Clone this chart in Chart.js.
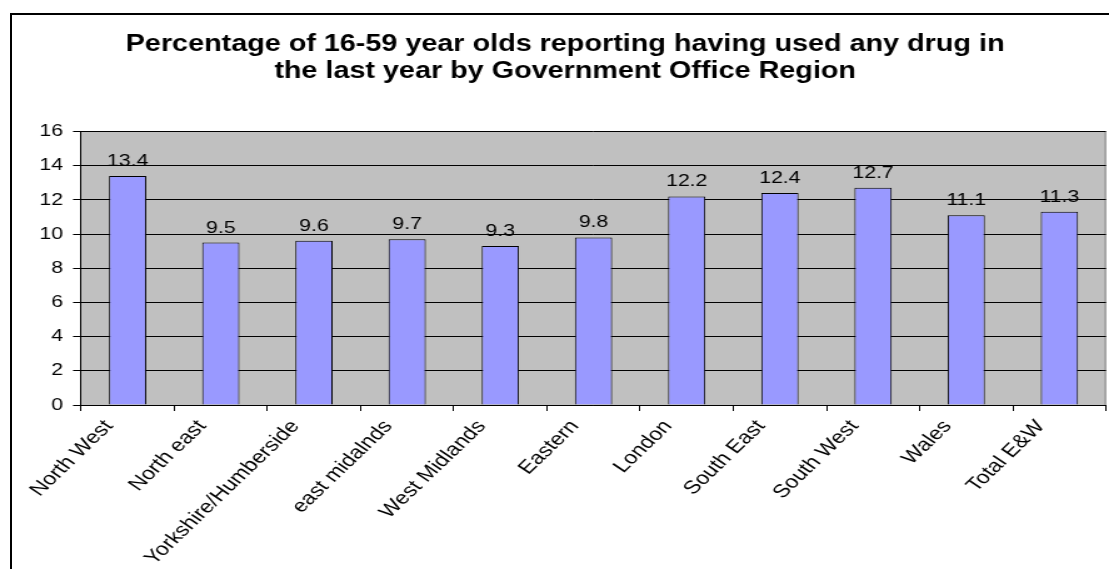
<!DOCTYPE html>
<html>
<head>
<meta charset="utf-8">
<script src="https://cdn.jsdelivr.net/npm/chart.js@4"></script>
<style>
  html, body { margin: 0; padding: 0; background: #fff; }
  body { width: 1109px; height: 569px; position: relative; overflow: hidden; }
  #frame {
    position: absolute; left: 10px; top: 13px; width: 1120px; height: 600px;
    border-left: 2px solid #000; border-top: 2px solid #000;
  }
  #wrap {
    position: absolute; left: 0; top: 0; width: 887px; height: 569px;
    transform: scaleX(1.2503); transform-origin: 0 0;
  }
</style>
</head>
<body>
<div id="frame"></div>
<div id="wrap"><canvas id="drugChart" width="887" height="569"></canvas></div>
<script>
// chart data
const regions = ['North West', 'North east', 'Yorkshire/Humberside', 'east midalnds', 'West Midlands',
    'Eastern', 'London', 'South East', 'South West', 'Wales', 'Total E&W'];
const usage = [13.4, 9.5, 9.6, 9.7, 9.3, 9.8, 12.2, 12.4, 12.7, 11.1, 11.3];
const yTicks = [0, 2, 4, 6, 8, 10, 12, 14, 16];
const titleLines = ['Percentage of 16-59 year olds reporting having used any drug in',
    'the last year by Government Office Region'];

const FONT = '"Liberation Sans", Arial, sans-serif';

// grey plot background
const plotBackground = {
    id: 'plotBackground',
    beforeDraw(chart) {
        const a = chart.chartArea;
        const ctx = chart.ctx;
        ctx.save();
        ctx.fillStyle = '#C0C0C0';
        ctx.fillRect(a.left, a.top, a.right - a.left, a.bottom - a.top);
        ctx.strokeStyle = '#808080';
        ctx.lineWidth = 1;
        ctx.beginPath();
        ctx.moveTo(a.right - 0.5, a.top);
        ctx.lineTo(a.right - 0.5, a.bottom);
        ctx.stroke();
        ctx.restore();
    }
};

// value labels above the bars
const valueLabels = {
    id: 'valueLabels',
    afterDatasetsDraw(chart) {
        const ctx = chart.ctx;
        const meta = chart.getDatasetMeta(0);
        ctx.save();
        ctx.font = '17px ' + FONT;
        ctx.fillStyle = '#000';
        ctx.textAlign = 'center';
        ctx.textBaseline = 'alphabetic';
        meta.data.forEach(function(bar, i) {
            ctx.fillText(usage[i].toFixed(1), bar.x, bar.y - 10);
        });
        ctx.restore();
    }
};

const ctx = document.getElementById('drugChart').getContext('2d');
new Chart(ctx, {
    type: 'bar',
    data: {
        labels: regions,
        datasets: [{
            data: usage,
            backgroundColor: '#9999FF',
            borderColor: '#000',
            borderWidth: 1,
            barPercentage: 0.4,
            categoryPercentage: 1
        }]
    },
    options: {
        responsive: false,
        animation: false,
        devicePixelRatio: 1,
        layout: {
            padding: { left: 19.4, right: 2.4, top: 0, bottom: 0 }
        },
        plugins: {
            legend: { display: false },
            tooltip: { enabled: false },
            title: {
                display: true,
                text: titleLines,
                color: '#000',
                font: { family: FONT, size: 23, weight: 'bold', lineHeight: 1.14 },
                padding: { top: 32, bottom: 47 }
            }
        },
        scales: {
            x: {
                afterFit: function(scale) { scale.height = 164; },
                grid: {
                    offset: true,
                    drawOnChartArea: false,
                    color: '#000',
                    tickLength: 6
                },
                border: { color: '#000', width: 1 },
                ticks: {
                    color: '#000',
                    font: { family: FONT, size: 18.5 },
                    autoSkip: false,
                    minRotation: 50,
                    maxRotation: 50,
                    labelOffset: -15,
                    padding: 5
                }
            },
            y: {
                min: 0,
                max: 16,
                afterFit: function(scale) { scale.width = 45.4; },
                afterBuildTicks: function(scale) {
                    scale.ticks = yTicks.map(function(v) { return { value: v }; });
                },
                grid: {
                    color: '#000',
                    lineWidth: 1,
                    tickLength: 6.4
                },
                border: { color: '#000', width: 1 },
                ticks: {
                    color: '#000',
                    font: { family: FONT, size: 17 },
                    padding: 8
                }
            }
        }
    },
    plugins: [plotBackground, valueLabels]
});
</script>
</body>
</html>
